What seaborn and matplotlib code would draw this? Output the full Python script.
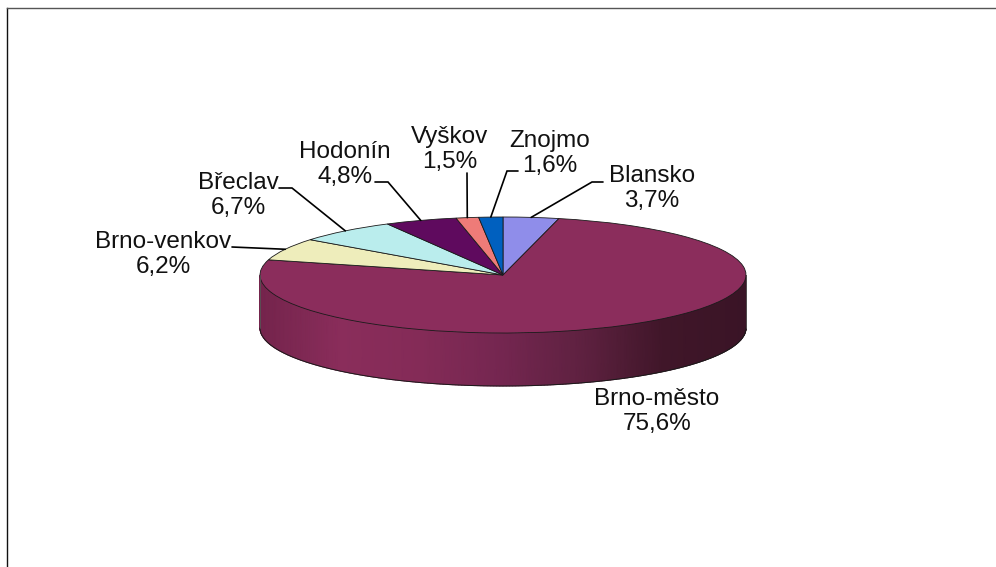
import numpy as np
import seaborn as sns
import matplotlib.pyplot as plt

# Chart data
districts = ['Blansko', 'Brno-město', 'Brno-venkov', 'Břeclav', 'Hodonín', 'Vyškov', 'Znojmo']
shares = [3.7, 75.6, 6.2, 6.7, 4.8, 1.5, 1.6]
share_labels = ['3,7%', '75,6%', '6,2%', '6,7%', '4,8%', '1,5%', '1,6%']

# Styles and layout (pixels of the 996x567 picture)
slice_colors = ['#8F8DEA', '#8B2D5C', '#EEEDBB', '#BAEDED', '#5F0A5E', '#EE7B78', '#0060BF']
wall_colors = ['#74244C', '#8A2D5B', '#842B57', '#742650', '#5E2140', '#401629', '#3A1426']
label_xy = [(652, 188.5), (657, 411.5), (163, 254.5), (238, 195.5), (345, 164.5), (450, 149.5), (550, 153.5)]
# where the leader leaves the label, then its elbow
leader_start = [(603, 182), None, (232, 247), (279, 188), (375, 182), (467, 173), (518, 171)]
leader_elbow = [(592, 182), None, None, (292, 188), (388, 182), None, (507, 171)]

CX, CY, RX, RY, DEPTH = 503, 275, 243, 58, 53
LEFT, TOP = 7, 8

sns.set_theme(style='white')
plt.rcParams['font.family'] = ['Liberation Sans', 'DejaVu Sans']


def to_data(px, py):
    return (px - CX) / RX, (CY - py) / RY


fig = plt.figure(figsize=(9.96, 5.67), dpi=100)
ax = fig.add_axes([LEFT / 996, 0, (996 - LEFT) / 996, (567 - TOP) / 567])

ax.pie(shares, colors=slice_colors, startangle=90, counterclock=False,
       wedgeprops={'edgecolor': '#1a1a1a', 'linewidth': 0.6, 'zorder': 3})
ax.set_aspect('auto')
ax.set_xlim(to_data(LEFT, 0)[0], to_data(996, 0)[0])
ax.set_ylim(to_data(0, 567)[1], to_data(0, TOP)[1])

# Side wall of the front half of the pie, shaded from left to right
depth = DEPTH / RY
t = np.linspace(np.pi, 2 * np.pi, 241)
wall_x = np.vstack([np.cos(t), np.cos(t)])
wall_y = np.vstack([np.sin(t), np.sin(t) - depth])
wall_cmap = sns.blend_palette(wall_colors, as_cmap=True)
ax.pcolormesh(wall_x, wall_y, wall_x, cmap=wall_cmap, shading='gouraud', zorder=2)
ax.plot(np.cos(t), np.sin(t) - depth, color='#1a1a1a', lw=0.7, zorder=3)
ax.plot([-1, -1], [0, -depth], color='#555555', lw=0.6, zorder=3)
ax.plot([1, 1], [0, -depth], color='#555555', lw=0.6, zorder=3)

# Labels and leader lines, which end on the rim at the middle of each slice
ends = np.cumsum(shares) / np.sum(shares) * 2 * np.pi
mids = ends - np.array(shares) / np.sum(shares) * np.pi
for i, name in enumerate(districts):
    x, y = to_data(*label_xy[i])
    ax.text(x, y, f'{name}\n{share_labels[i]}', ha='center', va='center',
            fontsize=17.5, color='#111111', linespacing=1.2, zorder=5)
    if leader_start[i] is None:
        continue
    pts = [to_data(*leader_start[i])]
    if leader_elbow[i] is not None:
        pts.append(to_data(*leader_elbow[i]))
    pts.append((np.sin(mids[i]), np.cos(mids[i])))
    ax.plot(*zip(*pts), color='black', lw=1.2, zorder=4, solid_joinstyle='miter')

# Only the top and left edges of the chart frame show
ax.set_frame_on(True)
ax.spines['right'].set_visible(False)
ax.spines['bottom'].set_visible(False)
ax.spines['left'].set_color('#111111')
ax.spines['left'].set_linewidth(1.0)
ax.spines['top'].set_color('#555555')
ax.spines['top'].set_linewidth(1.0)

fig.savefig('out.png', dpi=100)
plt.close(fig)
